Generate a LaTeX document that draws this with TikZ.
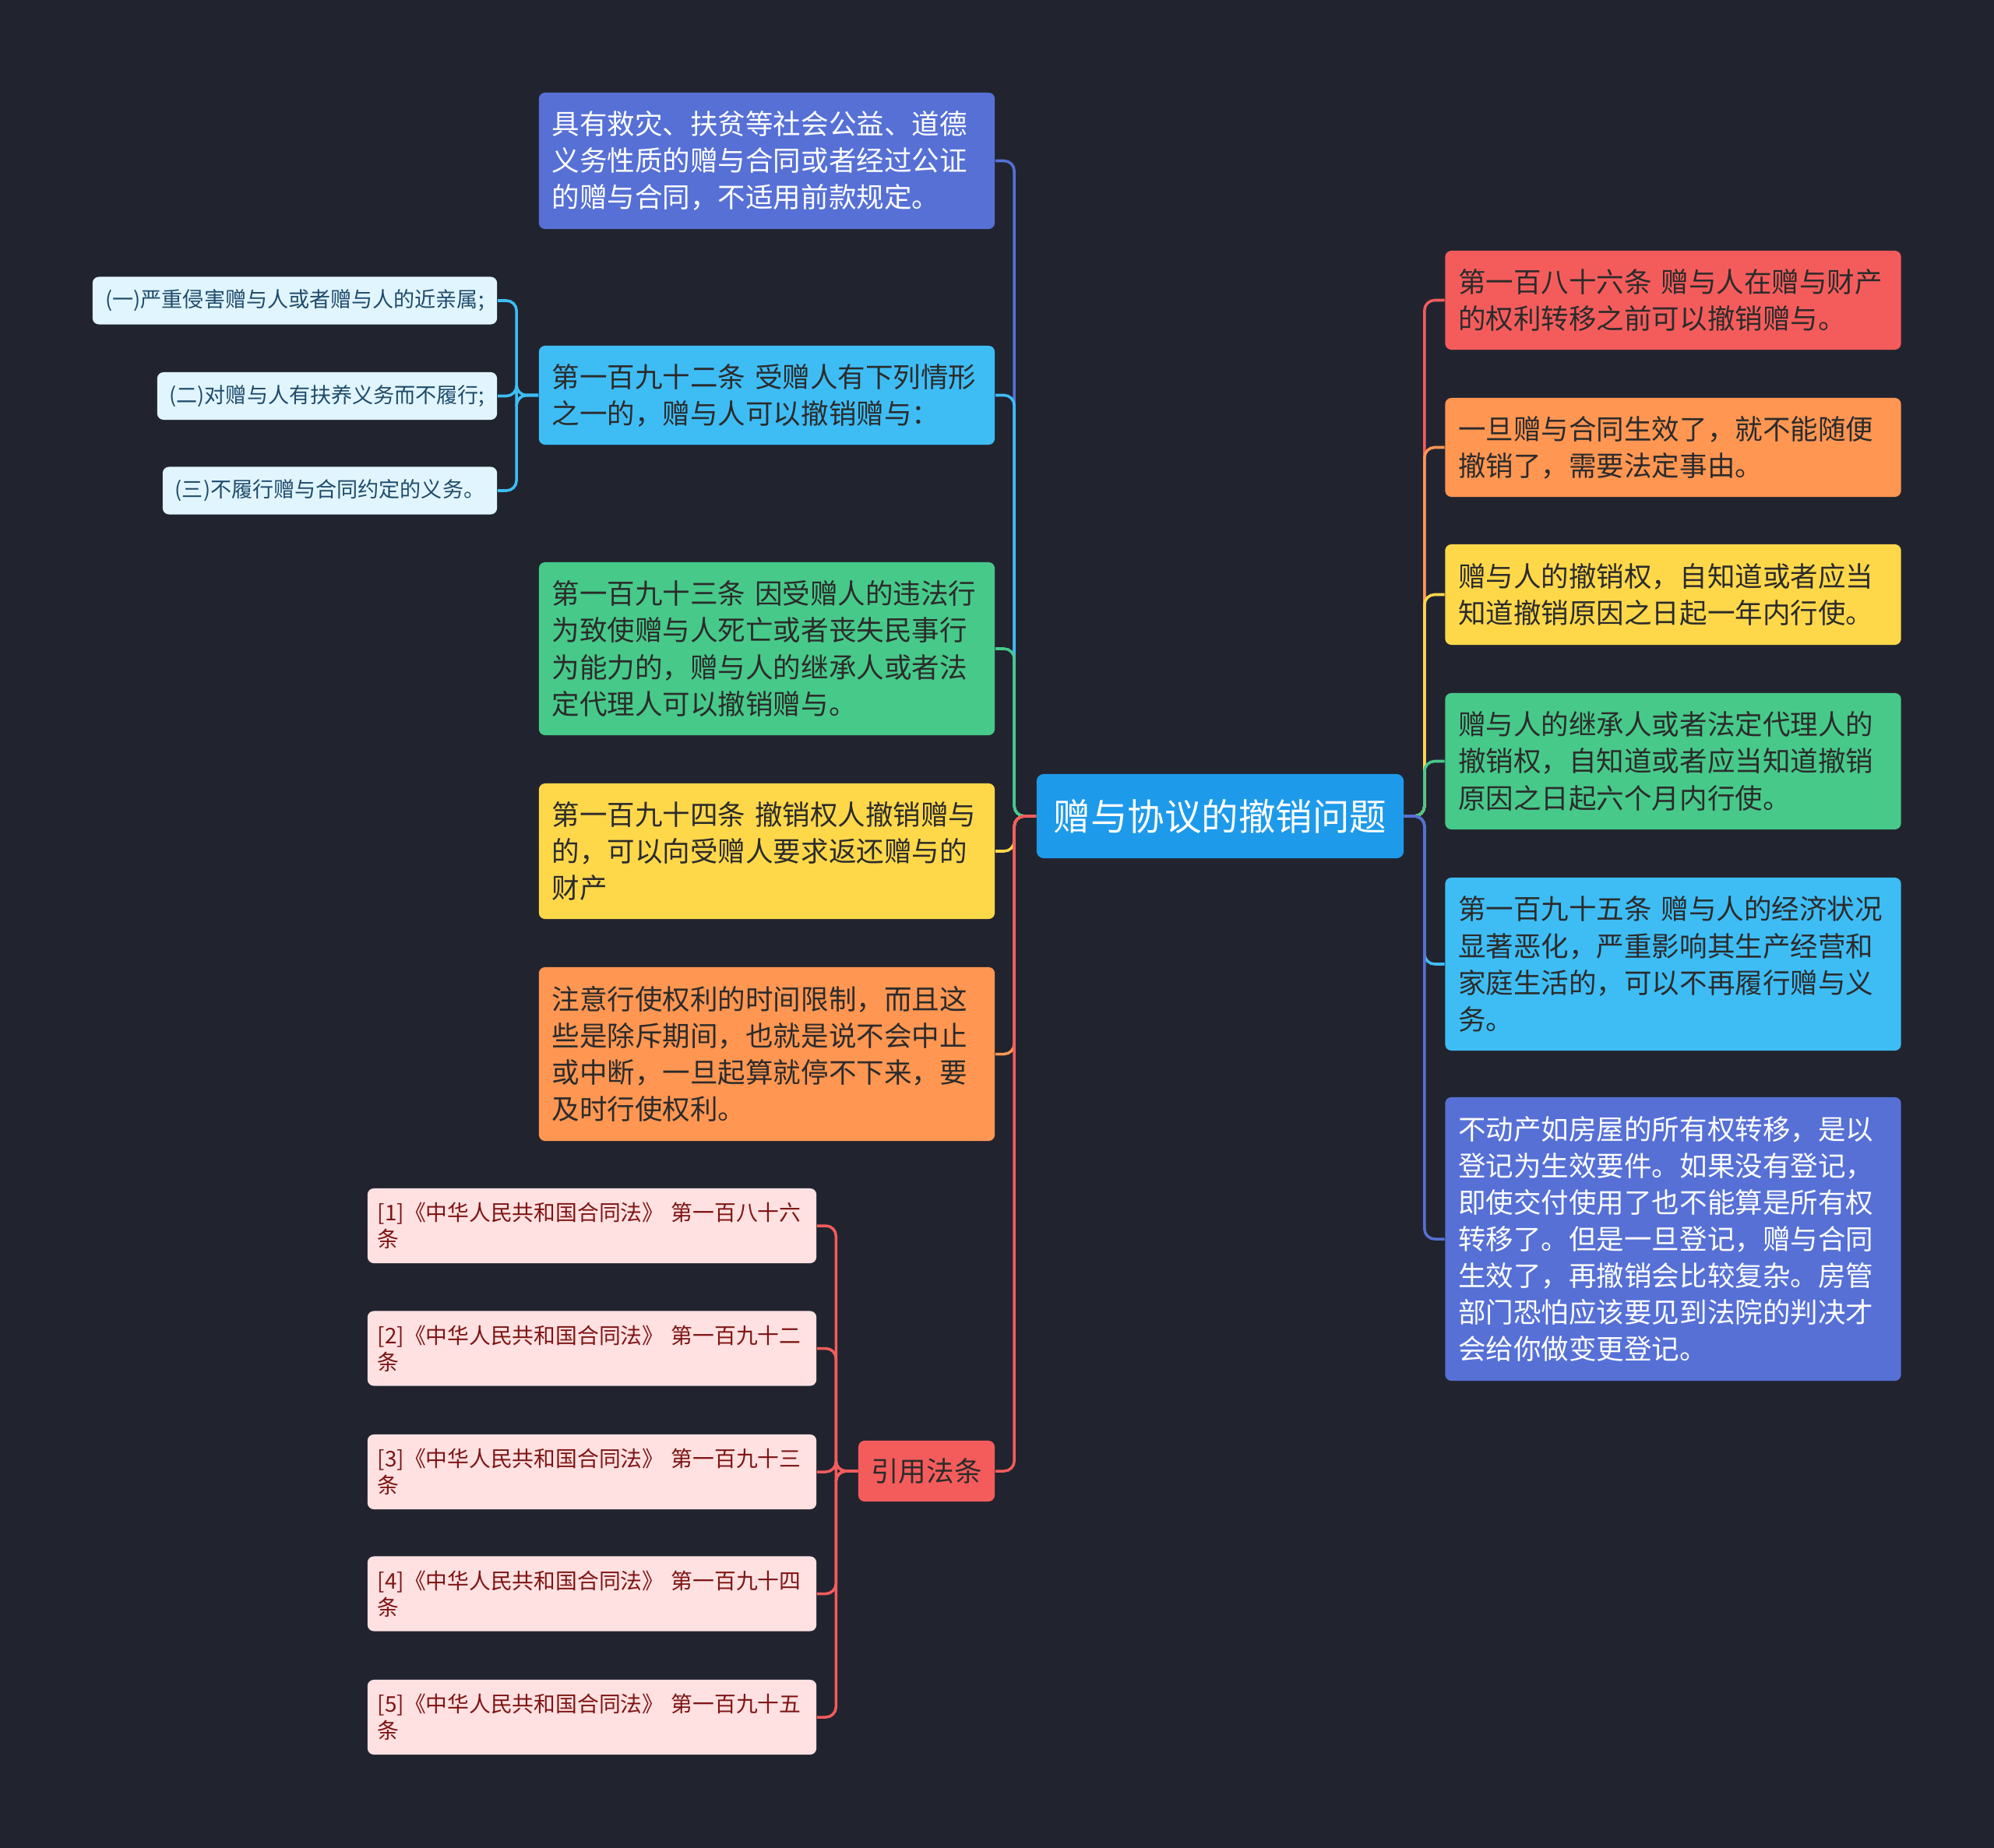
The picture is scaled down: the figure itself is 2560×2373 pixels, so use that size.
\documentclass[tikz,border=0pt]{standalone}
\usepackage{fontspec}
\setmainfont{Noto Sans CJK SC}
\usetikzlibrary{calc}
\pgfdeclarelayer{back}
\pgfdeclarelayer{bg}
\pgfsetlayers{back,bg,main}
\definecolor{bgc}{HTML}{21242F}
\definecolor{cctr}{HTML}{1D9AEA}
\definecolor{cpur}{HTML}{5670D6}
\definecolor{csky}{HTML}{3EBDF5}
\definecolor{cgrn}{HTML}{47C98A}
\definecolor{cyel}{HTML}{FFD84A}
\definecolor{corg}{HTML}{FF9652}
\definecolor{cred}{HTML}{F45C5C}
\definecolor{csub}{HTML}{E1F5FE}
\definecolor{tsub}{HTML}{1F4B6B}
\definecolor{cref}{HTML}{FFE1E1}
\definecolor{tref}{HTML}{7E1414}
\definecolor{tdark}{HTML}{2B2B2B}
\tikzset{
  box/.style={rounded corners=0.08cm, inner xsep=0.17cm, inner ysep=0pt, align=left,
    text width=5.51cm, font=\fontsize{10.1}{13.4}\selectfont, text=tdark},
  ctrbox/.style={rounded corners=0.09cm, fill=cctr, text=white, inner sep=0pt,
    minimum width=4.71cm, minimum height=1.08cm, font=\fontsize{13.5}{16}\selectfont},
  subbox/.style={rounded corners=0.08cm, fill=csub, text=tsub, inner sep=0pt,
    minimum height=0.61cm, font=\fontsize{7.7}{9}\selectfont},
  refbox/.style={rounded corners=0.08cm, fill=cref, text=tref, inner xsep=0.13cm, inner ysep=0pt,
    align=left, text width=5.5cm, minimum height=0.96cm, font=\fontsize{7.9}{9.7}\selectfont},
  conn/.style={line width=1pt, rounded corners=0.13cm},
}
\begin{document}
\begin{tikzpicture}[x=0.01cm,y=-0.01cm]
\begin{pgfonlayer}{back}
\fill[bgc] (0,0) rectangle (2560,2373);
\end{pgfonlayer}
\useasboundingbox (0,0) rectangle (2560,2373);

% center
\node[ctrbox] (ctr) at (1566.5,1048) {赠与协议的撤销问题};

% left branch
\node[box, fill=cpur, text=white, minimum height=1.75cm] (L1) at (984.5,206.5)
  {具有救灾、扶贫等社会公益、道德\\义务性质的赠与合同或者经过公证\\的赠与合同，不适用前款规定。};
\node[box, fill=csky, minimum height=1.27cm] (L2) at (984.5,507.5)
  {第一百九十二条 受赠人有下列情形\\之一的，赠与人可以撤销赠与：};
\node[box, fill=cgrn, minimum height=2.22cm] (L3) at (984.5,833)
  {第一百九十三条 因受赠人的违法行\\为致使赠与人死亡或者丧失民事行\\为能力的，赠与人的继承人或者法\\定代理人可以撤销赠与。};
\node[box, fill=cyel, minimum height=1.74cm] (L4) at (984.5,1093)
  {第一百九十四条 撤销权人撤销赠与\\的，可以向受赠人要求返还赠与的\\财产};
\node[box, fill=corg, minimum height=2.23cm] (L5) at (984.5,1353.5)
  {注意行使权利的时间限制，而且这\\些是除斥期间，也就是说不会中止\\或中断，一旦起算就停不下来，要\\及时行使权利。};
\node[rounded corners=0.08cm, fill=cred, text=tdark, inner sep=0pt, minimum width=1.75cm,
  minimum height=0.78cm, font=\fontsize{10.1}{13.4}\selectfont] (L6) at (1189.5,1889) {引用法条};

% sub nodes of L2
\node[subbox, minimum width=5.19cm] (S1) at (378.5,386) {(一)严重侵害赠与人或者赠与人的近亲属;};
\node[subbox, minimum width=4.36cm] (S2) at (420,508.5) {(二)对赠与人有扶养义务而不履行;};
\node[subbox, minimum width=4.29cm] (S3) at (423.5,630) {(三)不履行赠与合同约定的义务。};

% reference nodes
\node[refbox] (R1) at (760,1574) {[1]《中华人民共和国合同法》 第一百八十六\\条};
\node[refbox] (R2) at (760,1731.5) {[2]《中华人民共和国合同法》 第一百九十二\\条};
\node[refbox] (R3) at (760,1890) {[3]《中华人民共和国合同法》 第一百九十三\\条};
\node[refbox] (R4) at (760,2046.5) {[4]《中华人民共和国合同法》 第一百九十四\\条};
\node[refbox] (R5) at (760,2205) {[5]《中华人民共和国合同法》 第一百九十五\\条};

% right branch
\node[box, fill=cred, minimum height=1.27cm] (RR1) at (2148,385.5)
  {第一百八十六条 赠与人在赠与财产\\的权利转移之前可以撤销赠与。};
\node[box, fill=corg, minimum height=1.27cm] (RR2) at (2148,574.5)
  {一旦赠与合同生效了，就不能随便\\撤销了，需要法定事由。};
\node[box, fill=cyel, minimum height=1.29cm] (RR3) at (2148,763.5)
  {赠与人的撤销权，自知道或者应当\\知道撤销原因之日起一年内行使。};
\node[box, fill=cgrn, minimum height=1.75cm] (RR4) at (2148,977.5)
  {赠与人的继承人或者法定代理人的\\撤销权，自知道或者应当知道撤销\\原因之日起六个月内行使。};
\node[box, fill=csky, minimum height=2.22cm] (RR5) at (2148,1238)
  {第一百九十五条 赠与人的经济状况\\显著恶化，严重影响其生产经营和\\家庭生活的，可以不再履行赠与义\\务。};
\node[box, fill=cpur, text=white, minimum height=3.64cm] (RR6) at (2148,1591)
  {不动产如房屋的所有权转移，是以\\登记为生效要件。如果没有登记，\\即使交付使用了也不能算是所有权\\转移了。但是一旦登记，赠与合同\\生效了，再撤销会比较复杂。房管\\部门恐怕应该要见到法院的判决才\\会给你做变更登记。};

\begin{pgfonlayer}{bg}
% left connectors
\draw[conn, cpur] (ctr.west) -- ++(-28,0) |- (L1.east);
\draw[conn, csky] (ctr.west) -- ++(-28,0) |- (L2.east);
\draw[conn, cgrn] (ctr.west) -- ++(-28,0) |- (L3.east);
\draw[conn, cyel] (ctr.west) -- ++(-28,0) |- (L4.east);
\draw[conn, corg] (ctr.west) -- ++(-28,0) |- (L5.east);
\draw[conn, cred] (ctr.west) -- ++(-28,0) |- (L6.east);
% sub connectors
\draw[conn, csky] (L2.west) -- ++(-28,0) |- (S1.east);
\draw[conn, csky] (L2.west) -- ++(-28,0) |- (S2.east);
\draw[conn, csky] (L2.west) -- ++(-28,0) |- (S3.east);
% reference connectors
\draw[conn, cred] (L6.west) -- ++(-28,0) |- (R1.east);
\draw[conn, cred] (L6.west) -- ++(-28,0) |- (R2.east);
\draw[conn, cred] (L6.west) -- ++(-28,0) |- (R3.east);
\draw[conn, cred] (L6.west) -- ++(-28,0) |- (R4.east);
\draw[conn, cred] (L6.west) -- ++(-28,0) |- (R5.east);
% right connectors
\draw[conn, cred] (ctr.east) -- ++(26,0) |- (RR1.west);
\draw[conn, corg] (ctr.east) -- ++(26,0) |- (RR2.west);
\draw[conn, cyel] (ctr.east) -- ++(26,0) |- (RR3.west);
\draw[conn, cgrn] (ctr.east) -- ++(26,0) |- (RR4.west);
\draw[conn, csky] (ctr.east) -- ++(26,0) |- (RR5.west);
\draw[conn, cpur] (ctr.east) -- ++(26,0) |- (RR6.west);
\end{pgfonlayer}
\end{tikzpicture}
\end{document}
